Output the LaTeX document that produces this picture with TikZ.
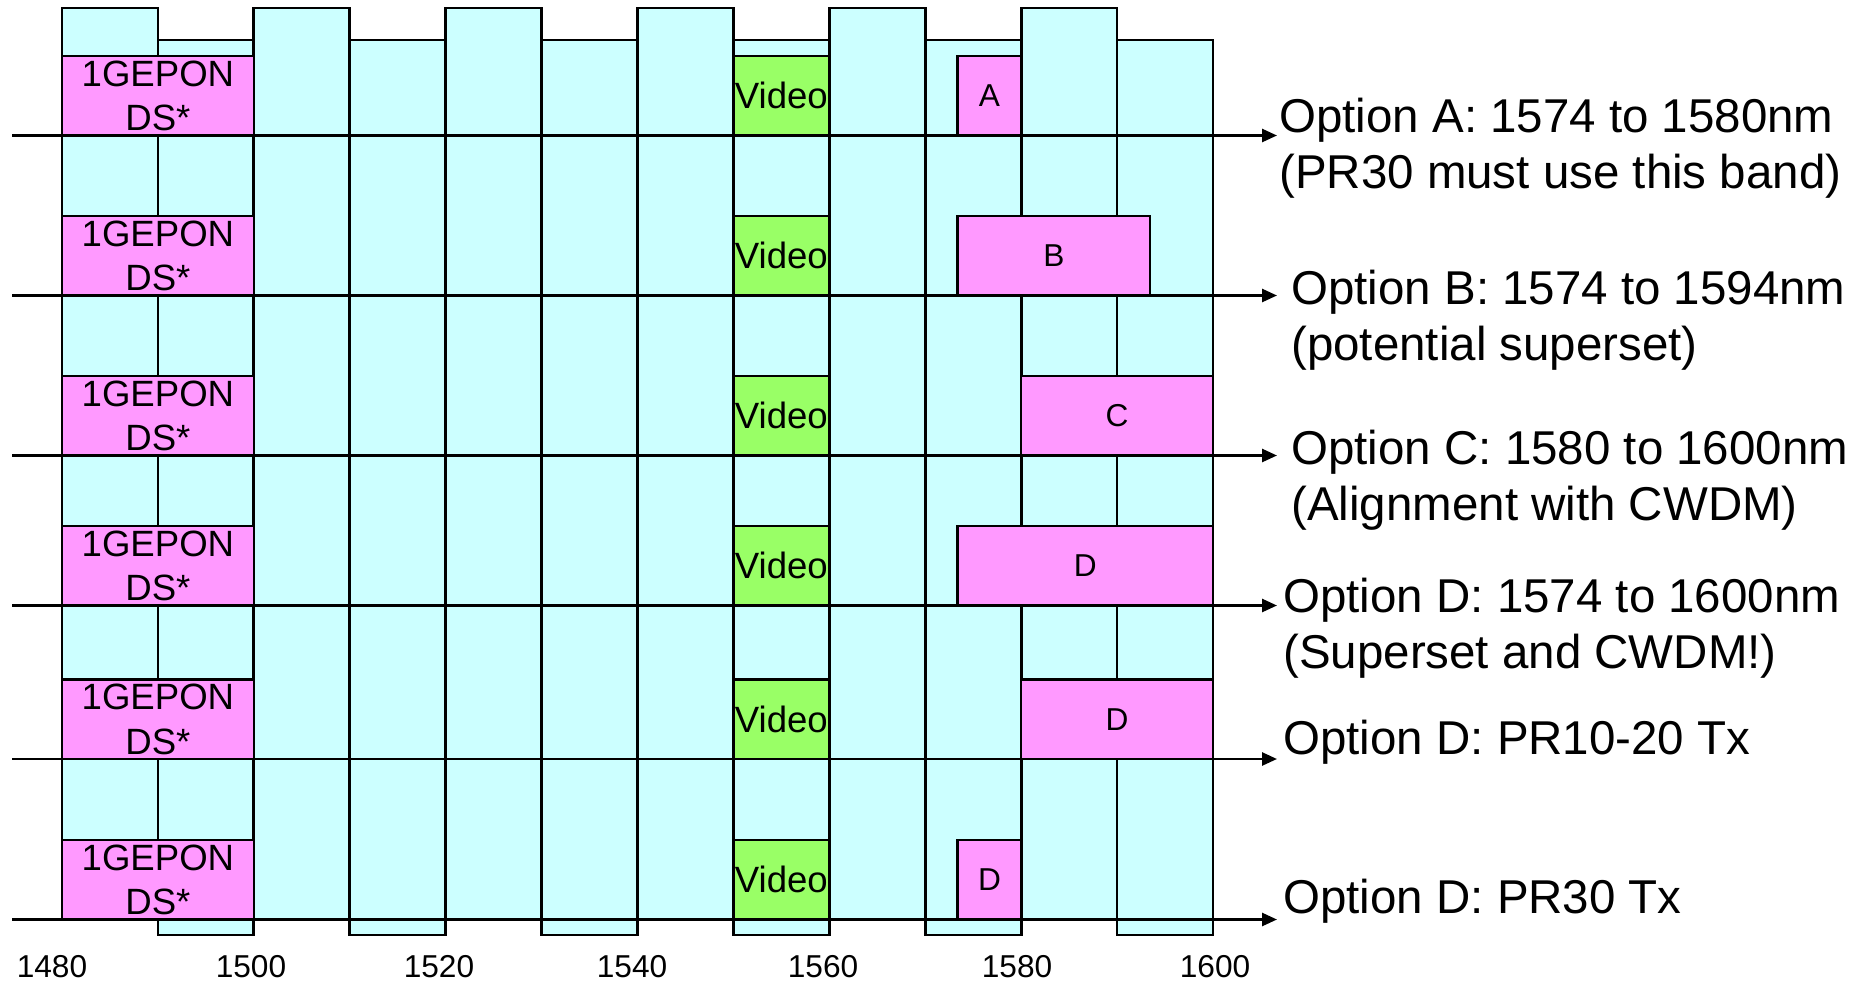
\documentclass[tikz,border=0pt]{standalone}
\usepackage{fontspec}
\setmainfont{Liberation Sans}
\usetikzlibrary{arrows.meta}
\definecolor{gridfill}{HTML}{CCFFFF}
\definecolor{bandfill}{HTML}{FF99FF}
\definecolor{videofill}{HTML}{99FF66}

\begin{document}
\begin{tikzpicture}[
  x=0.01cm,
  y=-0.01cm,
  line width=0.75pt,
  slot/.style={draw=black, fill=gridfill},
  boxbase/.style={
    draw=black,
    inner sep=0pt,
    minimum height=0.795cm,
    align=center
  },
  gepon/.style={boxbase, fill=bandfill, minimum width=1.918cm, font=\fontsize{10.4}{12.6}\selectfont},
  video/.style={boxbase, fill=videofill, minimum width=0.959cm, font=\fontsize{10.4}{12.6}\selectfont},
  bandbox/.style={boxbase, fill=bandfill, minimum width=#1, font=\fontsize{9}{10.8}\selectfont},
  wlaxis/.style={-{Triangle[length=0.15cm,width=0.13cm]}, line width=0.75pt},
  note/.style={anchor=west, inner sep=0pt, align=left, font=\fontsize{13.5}{15.9}\selectfont},
  ticklabel/.style={anchor=base, inner sep=0pt, font=\fontsize{9}{10.8}\selectfont}
]
\useasboundingbox (0,0) rectangle (1870,982);
\fill[white] (0,0) rectangle (1870,982);

% CWDM grid, tall slots
\draw[slot] (62,8) rectangle (157.9,919.5);
\draw[slot] (253.8,8) rectangle (349.8,919.5);
\draw[slot] (445.7,8) rectangle (541.6,919.5);
\draw[slot] (637.5,8) rectangle (733.4,919.5);
\draw[slot] (829.3,8) rectangle (925.3,919.5);
\draw[slot] (1021.2,8) rectangle (1117.1,919.5);
% CWDM grid, short slots
\draw[slot] (157.9,40) rectangle (253.8,935);
\draw[slot] (349.8,40) rectangle (445.7,935);
\draw[slot] (541.6,40) rectangle (637.5,935);
\draw[slot] (733.4,40) rectangle (829.3,935);
\draw[slot] (925.3,40) rectangle (1021.2,935);
\draw[slot] (1117.1,40) rectangle (1213,935);

% Row 1: option A
\node[gepon] (gepon1) at (157.9,95.75) {1GEPON\\DS*};
\node[video] (video1) at (781.35,95.75) {Video};
\node[bandbox=0.635cm] (bandA) at (989.45,95.75) {A};

% Row 2: option B
\node[gepon] (gepon2) at (157.9,255.75) {1GEPON\\DS*};
\node[video] (video2) at (781.35,255.75) {Video};
\node[bandbox=1.923cm] (bandB) at (1053.85,255.75) {B};

% Row 3: option C
\node[gepon] (gepon3) at (157.9,415.75) {1GEPON\\DS*};
\node[video] (video3) at (781.35,415.75) {Video};
\node[bandbox=1.918cm] (bandC) at (1117.1,415.75) {C};

% Row 4: option D
\node[gepon] (gepon4) at (157.9,565.75) {1GEPON\\DS*};
\node[video] (video4) at (781.35,565.75) {Video};
\node[bandbox=2.553cm] (bandD) at (1085.35,565.75) {D};

% Row 5: PR10-20 Tx
\node[gepon] (gepon5) at (157.9,719.25) {1GEPON\\DS*};
\node[video] (video5) at (781.35,719.25) {Video};
\node[bandbox=1.918cm] (bandDlow) at (1117.1,719.25) {D};

% Row 6: PR30 Tx
\node[gepon] (gepon6) at (157.9,879.75) {1GEPON\\DS*};
\node[video] (video6) at (781.35,879.75) {Video};
\node[bandbox=0.635cm] (bandDhigh) at (989.45,879.75) {D};

% Wavelength axes
\coordinate (axis1w) at (12,135.5);
\coordinate (axis1e) at (1277,135.5);
\coordinate (axis2w) at (12,295.5);
\coordinate (axis2e) at (1277,295.5);
\coordinate (axis3w) at (12,455.5);
\coordinate (axis3e) at (1277,455.5);
\coordinate (axis4w) at (12,605.5);
\coordinate (axis4e) at (1277,605.5);
\coordinate (axis5w) at (12,759);
\coordinate (axis5e) at (1277,759);
\coordinate (axis6w) at (12,919.5);
\coordinate (axis6e) at (1277,919.5);

\draw[wlaxis] (axis1w) -- (axis1e);
\draw[wlaxis] (axis2w) -- (axis2e);
\draw[wlaxis] (axis3w) -- (axis3e);
\draw[wlaxis] (axis4w) -- (axis4e);
\draw[wlaxis] (axis5w) -- (axis5e);
\draw[wlaxis] (axis6w) -- (axis6e);

% Option notes
\node[note] (noteA) at (1278,148.5) {Option A: 1574 to 1580nm\\(PR30 must use this band)};
\node[note] (noteB) at (1290,320.5) {Option B: 1574 to 1594nm\\(potential superset)};
\node[note] (noteC) at (1290,480.5) {Option C: 1580 to 1600nm\\(Alignment with CWDM)};
\node[note] (noteD) at (1282,628.5) {Option D: 1574 to 1600nm\\(Superset and CWDM!)};
\node[note] (noteDlow) at (1282,742.5) {Option D: PR10-20 Tx};
\node[note] (noteDhigh) at (1282,901.5) {Option D: PR30 Tx};

% Wavelength ticks
\node[ticklabel] (t1480) at (52,977) {1480};
\node[ticklabel] (t1500) at (251,977) {1500};
\node[ticklabel] (t1520) at (439,977) {1520};
\node[ticklabel] (t1540) at (632,977) {1540};
\node[ticklabel] (t1560) at (823,977) {1560};
\node[ticklabel] (t1580) at (1017,977) {1580};
\node[ticklabel] (t1600) at (1215,977) {1600};

\end{tikzpicture}
\end{document}
